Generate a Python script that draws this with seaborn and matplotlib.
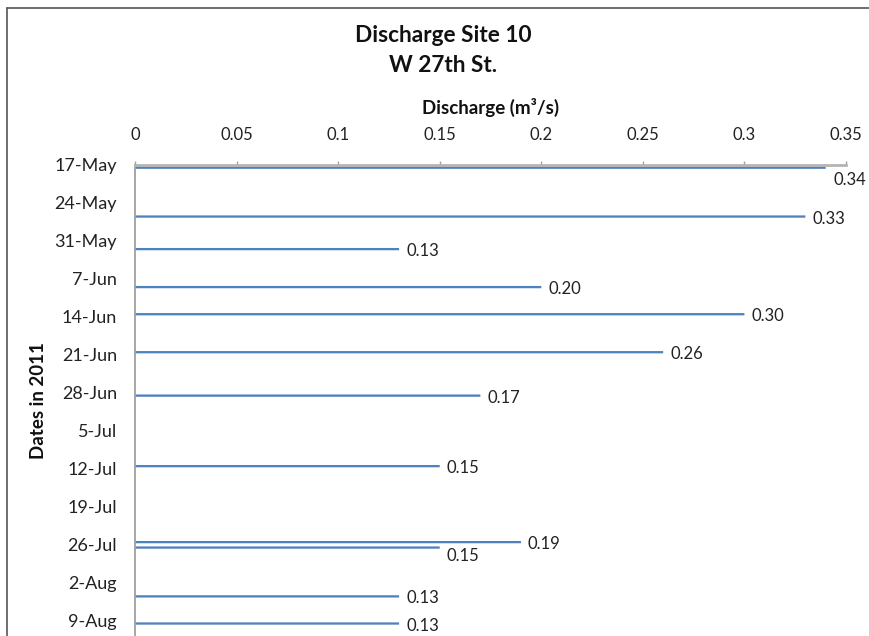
import matplotlib
matplotlib.use("Agg")
import matplotlib.pyplot as plt
import seaborn as sns
import pandas as pd

# ---- data ----
sample_dates = ["2011-05-17", "2011-05-26", "2011-06-01", "2011-06-08", "2011-06-13",
                "2011-06-20", "2011-06-28", "2011-07-11", "2011-07-25", "2011-07-26",
                "2011-08-04", "2011-08-09"]
discharge = [0.34, 0.33, 0.13, 0.20, 0.30, 0.26, 0.17, 0.15, 0.19, 0.15, 0.13, 0.13]
tick_labels = ["17-May", "24-May", "31-May", "7-Jun", "14-Jun", "21-Jun", "28-Jun",
               "5-Jul", "12-Jul", "19-Jul", "26-Jul", "2-Aug", "9-Aug"]
x_ticks = [0, 0.05, 0.1, 0.15, 0.2, 0.25, 0.3, 0.35]
x_tick_labels = ["0", "0.05", "0.1", "0.15", "0.2", "0.25", "0.3", "0.35"]

start = pd.Timestamp("2011-05-17")
day = (pd.to_datetime(sample_dates) - start).days + 0.5
df = pd.DataFrame({"day": day, "q": discharge})

sns.set_theme(style="white")
plt.rcParams["font.family"] = ["Lato", "DejaVu Sans"]

W, H = 869, 636
fig = plt.figure(figsize=(W / 100, H / 100), dpi=100)
ax = fig.add_axes([135 / W, 0, (846 - 135) / W, 1 - 165 / H])

bar_color = "#4F81BD"
sns.barplot(data=df, x="q", y="day", orient="y", native_scale=True,
            width=0.42, color=bar_color, saturation=1, ax=ax, linewidth=0)
for p in ax.patches:
    p.set_snap(False)

ax.set_xlim(0, 0.35)
ax.set_ylim(86.8, 0)
ax.set_yticks([7 * i for i in range(len(tick_labels))])
ax.set_yticklabels(tick_labels)
ax.set_xticks(x_ticks)
ax.set_xticklabels(x_tick_labels)
ax.xaxis.tick_top()
ax.xaxis.set_label_position("top")

for s in ["bottom", "right"]:
    ax.spines[s].set_visible(False)
ax.spines["top"].set_color("#b4b4b4")
ax.spines["top"].set_linewidth(2)
ax.spines["left"].set_color("#a0a0a0")
ax.spines["left"].set_linewidth(1.3)

ax.tick_params(axis="x", direction="out", length=3, width=1, color="#a0a0a0",
               pad=13, labelsize=12, labelcolor="#222222")
ax.tick_params(axis="y", direction="out", length=4, width=1, color="#a0a0a0",
               pad=9, labelsize=13, labelcolor="#222222")

ax.set_xlabel("Discharge (m³/s)", fontsize=13.5, fontweight="bold", labelpad=9, color="#111111")
ax.set_ylabel("Dates in 2011", fontsize=13.5, fontweight="bold", labelpad=5, color="#111111")

# value labels
offsets = {0: (8, -12), 9: (7, -8)}
for i, (d, q) in enumerate(zip(df["day"], df["q"])):
    dx, dy = offsets.get(i, (7, -2))
    ax.annotate(f"{q:.2f}", (q, d), xytext=(dx, dy), textcoords="offset pixels",
                ha="left", va="center", fontsize=12, color="#222222",
                annotation_clip=False)

fig.text(443 / W, 1 - 36 / H, "Discharge Site 10", ha="center", va="center",
         fontsize=16.3, fontweight="bold", color="#111111")
fig.text(443 / W, 1 - 66 / H, "W 27th St.", ha="center", va="center",
         fontsize=16.3, fontweight="bold", color="#111111")

# outer chart frame
fig.add_artist(plt.Line2D([7 / W, 1.02], [1 - 8 / H, 1 - 8 / H], color="#555555", lw=1.2,
                          transform=fig.transFigure))
fig.add_artist(plt.Line2D([7 / W, 7 / W], [-0.02, 1 - 8 / H], color="#555555", lw=1.2,
                          transform=fig.transFigure))

fig.savefig("out.png", dpi=100)
